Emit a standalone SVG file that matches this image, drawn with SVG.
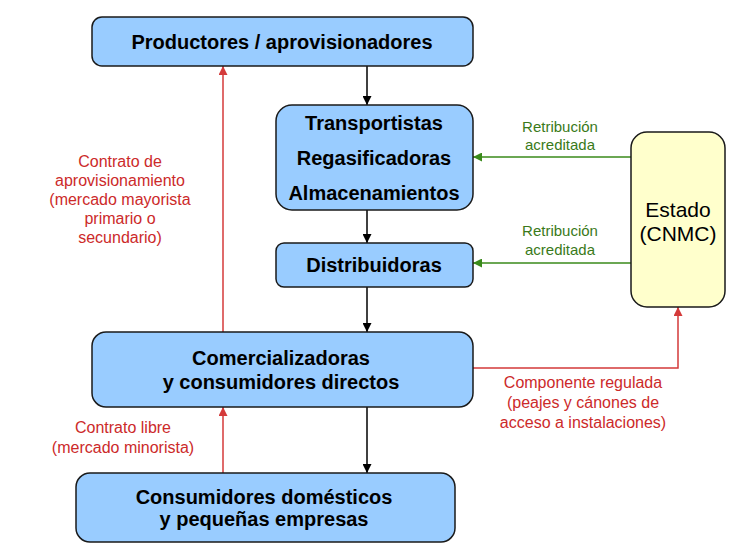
<svg xmlns="http://www.w3.org/2000/svg" width="735" height="551" viewBox="0 0 735 551">
<style>
.box{fill:#99ccff;stroke:#1a1a1a;stroke-width:1.5}
.st{fill:#ffffcc;stroke:#1a1a1a;stroke-width:1.5}
.bt{font-family:"Liberation Sans",Arial,sans-serif;font-weight:bold;font-size:20px;fill:#000;text-anchor:middle}
.nt{font-family:"Liberation Sans",Arial,sans-serif;font-size:21px;fill:#000;text-anchor:middle}
.rt{font-family:"Liberation Sans",Arial,sans-serif;font-size:16px;fill:#cc2a2a;text-anchor:middle}
.gt{font-family:"Liberation Sans",Arial,sans-serif;font-size:15px;fill:#3a7a1a;text-anchor:middle}
.k{stroke:#000;stroke-width:1.5;fill:none}
.r{stroke:#d43a3a;stroke-width:1.5;fill:none}
.g{stroke:#3a8a1a;stroke-width:1.5;fill:none}
</style>
<defs>
<marker id="ak" viewBox="0 0 10 10" refX="10" refY="5" markerWidth="10" markerHeight="9" markerUnits="userSpaceOnUse" orient="auto"><path d="M0,0 L10,5 L0,10 z" fill="#000"/></marker>
<marker id="ar" viewBox="0 0 10 10" refX="10" refY="5" markerWidth="10" markerHeight="9" markerUnits="userSpaceOnUse" orient="auto"><path d="M0,0 L10,5 L0,10 z" fill="#d43a3a"/></marker>
<marker id="ag" viewBox="0 0 10 10" refX="10" refY="5" markerWidth="10" markerHeight="9" markerUnits="userSpaceOnUse" orient="auto"><path d="M0,0 L10,5 L0,10 z" fill="#3a8a1a"/></marker>
</defs>
<rect width="735" height="551" fill="#fff"/>
<g id="connectors">
<path class="k" d="M367,66 V105" marker-end="url(#ak)"/>
<path class="k" d="M367,210 V243" marker-end="url(#ak)"/>
<path class="k" d="M367,287 V332" marker-end="url(#ak)"/>
<path class="k" d="M367,407 V473" marker-end="url(#ak)"/>
<path class="r" d="M223,332 V66" marker-end="url(#ar)"/>
<path class="r" d="M223,473 V407" stroke-width="1" marker-end="url(#ar)"/>
<path class="r" d="M473,368 H678 V307" marker-end="url(#ar)"/>
<path class="g" d="M631,157 H473" marker-end="url(#ag)"/>
<path class="g" d="M631,263 H473" marker-end="url(#ag)"/>
<text class="gt" x="560" y="132">Retribución</text>
<text class="gt" x="560" y="150">acreditada</text>
<text class="gt" x="560" y="236">Retribución</text>
<text class="gt" x="560" y="255">acreditada</text>
<text class="rt" x="583" y="388">Componente regulada</text>
<text class="rt" x="583" y="408">(peajes y cánones de</text>
<text class="rt" x="583" y="428">acceso a instalaciones)</text>
<text class="rt" x="123" y="433">Contrato libre</text>
<text class="rt" x="123" y="453">(mercado minorista)</text>
<text class="rt" x="120" y="167">Contrato de</text>
<text class="rt" x="120" y="186">aprovisionamiento</text>
<text class="rt" x="120" y="205">(mercado mayorista</text>
<text class="rt" x="120" y="224">primario o</text>
<text class="rt" x="120" y="243">secundario)</text>
</g>
<g id="productores">
<rect class="box" x="92" y="17" width="381" height="49" rx="10"/>
<text class="bt" x="282" y="49">Productores / aprovisionadores</text>
</g>
<g id="transportistas">
<rect class="box" x="276" y="105" width="197" height="105" rx="16"/>
<text class="bt" x="374" y="130">Transportistas</text>
<text class="bt" x="374" y="165">Regasificadoras</text>
<text class="bt" x="374" y="200">Almacenamientos</text>
</g>
<g id="distribuidoras">
<rect class="box" x="276" y="243" width="197" height="44" rx="8"/>
<text class="bt" x="374" y="272">Distribuidoras</text>
</g>
<g id="estado">
<rect class="st" x="631" y="132" width="94" height="175" rx="16"/>
<text class="nt" x="678" y="217">Estado</text>
<text class="nt" x="678" y="241">(CNMC)</text>
</g>
<g id="comercializadoras">
<rect class="box" x="92" y="332" width="381" height="75" rx="14"/>
<text class="bt" x="281" y="365">Comercializadoras</text>
<text class="bt" x="281" y="389">y consumidores directos</text>
</g>
<g id="consumidores">
<rect class="box" x="76" y="473" width="379" height="69" rx="14"/>
<text class="bt" x="264" y="504">Consumidores domésticos</text>
<text class="bt" x="264" y="526">y pequeñas empresas</text>
</g>
</svg>
